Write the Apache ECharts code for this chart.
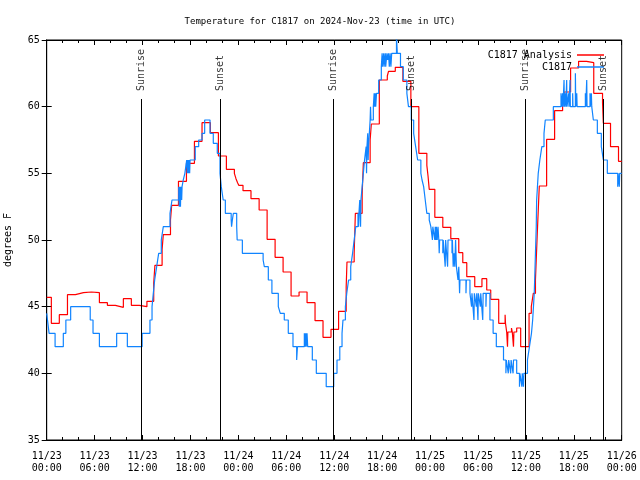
<!DOCTYPE html>
<html><head><meta charset="utf-8">
<script src="https://cdn.jsdelivr.net/npm/echarts@6/dist/echarts.min.js"></script>
<style>html,body{margin:0;padding:0;background:#fff}#c{width:640px;height:480px}</style>
</head><body><div id="c"></div>
<script>
// hours since 2024-11-23 00:00 UTC
const xTickLabels = ['11/23\n00:00','11/23\n06:00','11/23\n12:00','11/23\n18:00','11/24\n00:00','11/24\n06:00','11/24\n12:00','11/24\n18:00','11/25\n00:00','11/25\n06:00','11/25\n12:00','11/25\n18:00','11/26\n00:00'];
const sunEventHour = [11.85, 21.7, 35.89, 45.65, 59.93, 69.7];
const sunEventName = ['Sunrise','Sunset','Sunrise','Sunset','Sunrise','Sunset'];

// C1817 Analysis [hour, degF]
const analysisData = [
[0,45.7],[0.58,43.75],[1.58,44.4],[2.6,45.9],[3.6,46.05],[4.6,46.1],[5.6,46.05],[6.6,45.3],[7.6,45.1],[8.6,44.95],[9.6,45.6],[10.6,45.1],[11.6,45.0],[12.55,45.4],[13.4,46.75],[13.55,48.1],[14.45,49.3],[14.6,50.4],[15.5,51.5],[15.65,52.6],[16.5,54.4],[17.5,55.75],[18.5,57.4],[19.45,58.8],[20.5,58.05],[21.5,56.3],[22.5,55.3],[23.5,55.0],[23.7,54.6],[23.9,54.3],[24.05,54.1],[24.58,53.7],[25.58,53.1],[26.6,52.25],[27.6,50.05],[28.6,48.7],[29.6,47.6],[30.6,45.8],[31.6,46.1],[32.6,45.3],[33.6,43.95],[34.6,42.7],[35.6,43.3],[36.55,44.65],[37.5,46.5],[37.6,48.35],[38.5,49.0],[38.65,52.0],[39.5,53.4],[39.65,55.8],[40.5,57.5],[40.65,58.7],[41.65,62.0],[42.65,62.3],[42.8,62.65],[43.65,62.95],[44.6,61.9],[45.6,60.0],[46.6,56.5],[47.6,55.6],[47.75,54.8],[47.9,53.8],[48.6,51.7],[49.6,50.95],[50.6,50.1],[51.6,49.05],[52.1,48.3],[52.6,47.25],[53.6,46.5],[54.5,47.1],[55.1,46.25],[55.6,45.55],[56.6,43.75],[57.4,44.4],[57.45,43.75],[57.6,43.1],[57.7,42.0],[57.75,43.1],[58.2,43.4],[58.3,43.1],[58.45,42.0],[58.5,43.1],[58.85,43.4],[59.35,42.0],[60.4,44.5],[60.68,45],[60.93,46],[61.2,47],[61.43,50.5],[61.68,54.05],[62.6,57.55],[63.6,59.7],[64.6,60.8],[64.8,61.1],[65.6,62.9],[66.6,63.4],[67.6,63.3],[68.5,61.0],[69.6,60.3],[69.7,58.75],[70.6,57.0],[71.6,55.9],[72,55.9]
];

// C1817 observations [hour, degF]
const obsData = [
[0,44.5],[0.1,44],[0.3,43],[1.05,42],[2.08,43],[2.4,44],[3.0,45],[5.45,44],[5.8,43],[6.6,42],[8.76,43],[10.1,42],[11.95,43],[12.93,44],[13.19,45],[13.35,46],[13.52,47],[13.77,48],[14.02,49],[14.35,50],[14.6,51],[15.44,52],[15.69,53],[16.53,54],[16.6,52.5],[16.65,54],[16.75,52.5],[16.8,54],[16.9,53],[16.95,54],[17.1,54.5],[17.3,55],[17.53,56],[17.6,55],[17.65,56],[17.75,55],[17.8,56],[17.9,55],[17.95,56],[18.6,57],[19.03,57.5],[19.45,58],[19.78,59],[20.45,58],[20.86,57.25],[21.36,56.5],[21.7,55],[21.86,54],[22.1,53],[22.37,52],[23.1,51.5],[23.15,51],[23.25,51.5],[23.37,52],[23.79,51],[23.85,50],[24.5,49],[27.1,48.5],[27.25,48],[27.75,47],[28.2,46],[29.0,45],[29.25,44.5],[29.75,44],[30.25,43],[30.84,42],[31.3,41],[31.4,42],[32.26,43],[32.3,42],[32.35,43],[32.4,42],[32.45,43],[32.5,42],[32.6,43],[32.68,42],[33.26,41],[33.76,40],[35.0,39],[35.94,40],[36.35,41],[36.7,42],[36.98,43],[37.1,44],[37.4,45],[37.57,46],[37.8,47],[38.07,48],[38.3,49],[38.5,50],[38.7,51],[38.98,52],[39.05,51],[39.1,52],[39.2,53],[39.3,51],[39.35,53],[39.5,54],[39.65,55],[39.8,56],[40.0,57],[40.05,55],[40.1,57],[40.2,58],[40.25,56],[40.3,57],[40.4,58],[40.5,59],[40.55,60],[40.6,59],[40.9,60],[41.0,61],[41.05,60],[41.15,61],[41.2,60],[41.3,61],[41.57,62],[41.9,63],[42.0,64],[42.05,63],[42.2,64],[42.25,63],[42.4,64],[42.45,63],[42.6,64],[42.7,63.5],[42.8,64],[42.9,63],[43.0,64],[43.1,63],[43.2,64],[43.8,65.3],[43.9,64],[44.3,63],[44.65,62],[45.1,61],[45.3,60],[45.65,59],[45.95,58],[46.2,57],[46.45,56],[46.85,55],[47.0,54.5],[47.2,54],[47.4,53],[47.6,52],[47.9,51.5],[48.1,51],[48.3,50],[48.35,51],[48.6,50],[48.65,51],[48.75,50],[48.8,51],[48.9,50],[49.0,51],[49.1,50],[49.15,49],[49.2,50],[49.6,49],[49.65,50],[49.9,48],[49.95,50],[50.2,48],[50.25,50],[50.75,49],[50.8,50],[50.9,48],[51.0,49],[51.1,48],[51.2,50],[51.3,48],[51.5,47],[51.6,48],[51.7,46],[51.75,47],[52.5,46],[52.55,47],[53.0,46],[53.2,45],[53.25,46],[53.5,44],[53.55,46],[53.8,45],[53.85,46],[54.0,44],[54.05,46],[54.3,45],[54.35,46],[54.6,44],[54.65,46],[55.0,45],[55.05,46],[55.5,44],[55.9,43],[56.3,42],[57.2,41],[57.5,40],[57.55,41],[57.8,40],[57.85,41],[58.1,40],[58.15,41],[58.4,40],[58.45,41],[58.85,40],[59.2,39],[59.25,40],[59.5,39],[59.55,40],[59.7,39],[59.75,40],[60.2,41],[60.45,42],[60.7,43],[60.85,44],[60.95,45],[61.05,46],[61.1,47],[61.2,49],[61.3,51],[61.35,53],[61.45,54],[61.55,55],[61.75,56],[62.0,57],[62.27,58],[62.43,59],[63.44,60],[64.4,61],[64.5,60],[64.6,61],[64.65,60],[64.78,62],[64.82,60],[64.95,61],[65.0,60],[65.11,62],[65.15,60],[65.36,61],[65.4,60],[65.53,62],[65.57,60],[65.86,61],[65.9,60],[66.2,62.5],[66.25,60],[66.37,61],[66.42,60],[67.45,61],[67.5,60],[67.62,62],[67.66,60],[68.03,61],[68.07,60],[68.2,61],[68.25,60],[68.45,59],[68.95,58],[69.45,57],[69.7,56],[70.2,55],[71.5,54],[71.55,55],[71.7,54],[71.75,55],[72,55]
];

const mono = 'DejaVu Sans Mono';
const SUN_TOP = 60.575;
const chart = echarts.init(document.getElementById('c'), null, {renderer:'canvas'});
const axisCommon = {
  type:'value', min:0, max:72, interval:6,
  axisLine:{show:true, lineStyle:{color:'#000', width:1}},
  axisTick:{show:true, inside:true, length:5, lineStyle:{color:'#000'}},
  minorTick:{show:true, splitNumber:3, length:3, lineStyle:{color:'#000'}},
  splitLine:{show:false}
};
chart.setOption({
  animation:false,
  backgroundColor:'#fff',
  title:{text:'Temperature for C1817 on 2024-Nov-23 (time in UTC)', left:'center', top:12,
    textStyle:{fontFamily:mono, fontSize:9, fontWeight:'normal', color:'#000'}},
  legend:{right:31, top:44, orient:'vertical', align:'right', itemGap:0, itemWidth:27, itemHeight:1.5, icon:'rect',
    textStyle:{fontFamily:mono, fontSize:10, color:'#000', lineHeight:12},
    data:['C1817 Analysis','C1817']},
  grid:{left:46.7, right:18.3, top:40, bottom:40, show:true, borderColor:'#000', borderWidth:1,
    containLabel:false, outerBoundsMode:'none'},
  xAxis:[
    Object.assign({}, axisCommon, {position:'bottom',
      axisLabel:{margin:10, fontFamily:mono, fontSize:10, color:'#000', lineHeight:12,
        formatter:(v)=>xTickLabels[Math.round(v/6)]}}),
    Object.assign({}, axisCommon, {position:'top', axisLabel:{show:false}})
  ],
  yAxis:[
    {type:'value', min:35, max:65, interval:5, position:'left',
      name:'degrees F', nameLocation:'middle', nameGap:33, nameRotate:90,
      nameTextStyle:{fontFamily:mono, fontSize:10, color:'#000'},
      axisLine:{show:true, lineStyle:{color:'#000'}},
      axisTick:{show:true, inside:true, length:5, lineStyle:{color:'#000'}},
      splitLine:{show:false},
      axisLabel:{margin:7, fontFamily:mono, fontSize:10, color:'#000'}},
    {type:'value', min:35, max:65, interval:5, position:'right',
      axisLine:{show:true, lineStyle:{color:'#000'}},
      axisTick:{show:true, inside:true, length:5, lineStyle:{color:'#000'}},
      splitLine:{show:false}, axisLabel:{show:false}}
  ],
  series:[
    {name:'C1817 Analysis', type:'line', step:'end', showSymbol:false, data:analysisData,
      lineStyle:{color:'#ff0000', width:1.2}, itemStyle:{color:'#ff0000'}, z:2},
    {name:'C1817', type:'line', step:'end', showSymbol:false, data:obsData,
      lineStyle:{color:'#1084ff', width:1.2}, itemStyle:{color:'#1084ff'}, z:3},
    {name:'sun', type:'scatter', symbolSize:0, z:5,
      data:sunEventHour.map(h=>[h, SUN_TOP]),
      label:{show:true, position:'top', distance:8, rotate:90, align:'left', verticalAlign:'middle',
        fontFamily:mono, fontSize:10, color:'#000',
        formatter:(p)=>sunEventName[p.dataIndex]},
      markLine:{silent:true, symbol:['none','none'], animation:false,
        lineStyle:{color:'#000', width:1, type:'solid'}, label:{show:false},
        data:sunEventHour.map(h=>[{coord:[h,35]},{coord:[h,SUN_TOP]}])}}
  ]
});
</script></body></html>
